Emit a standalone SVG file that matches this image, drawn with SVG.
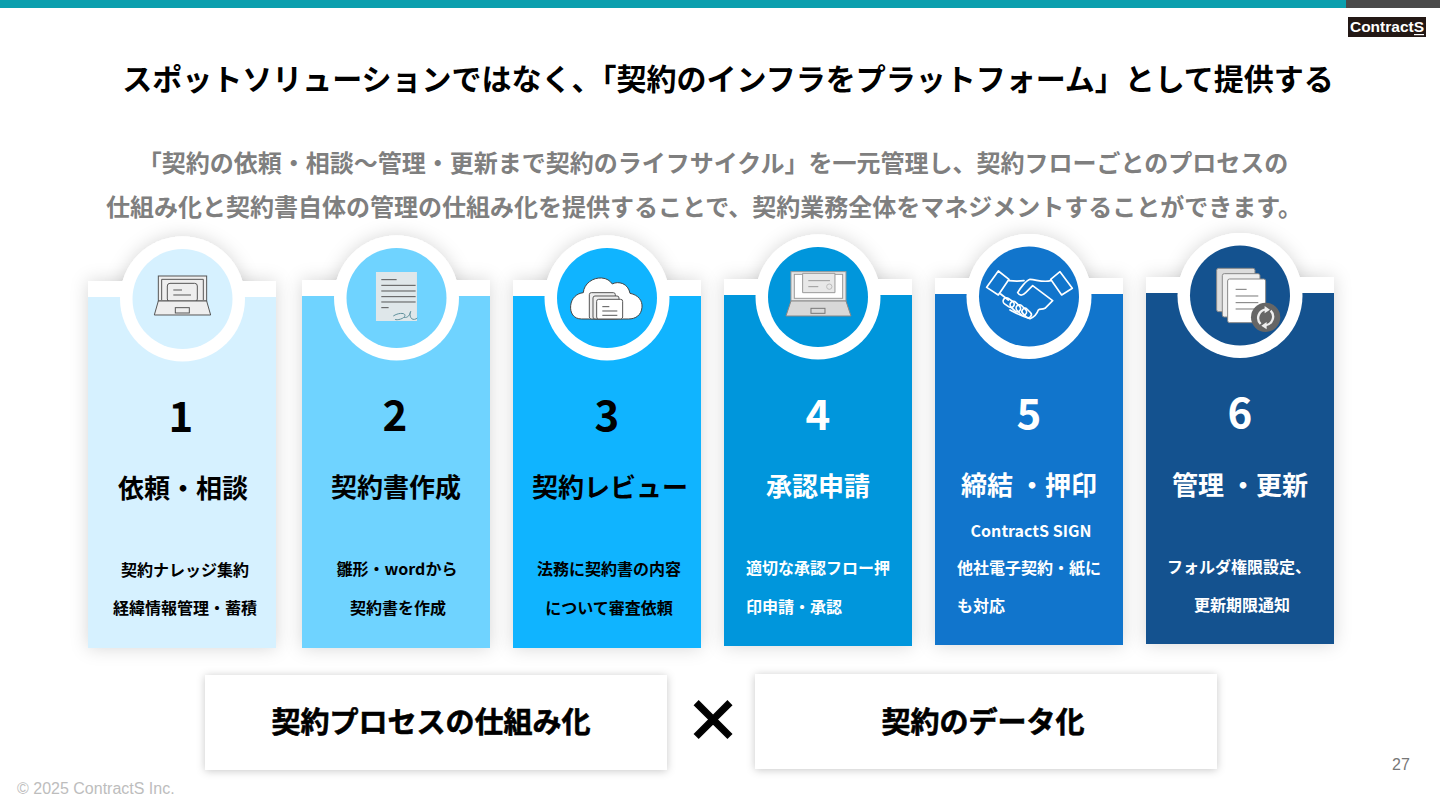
<svg xmlns="http://www.w3.org/2000/svg" width="1440" height="810" viewBox="0 0 1440 810">
<defs>
<style>
text{font-family:"Noto Sans CJK JP","Noto Sans",sans-serif;font-weight:700}
.m{text-anchor:middle}
.title{font-size:30px;fill:#000}
.sub{font-size:24px;fill:#7f7f7f}
.num{font-size:42px}
.head{font-size:26px}
.body{font-size:16px}
.k{fill:#000}
.w{fill:#fff}
.big{font-size:29px;fill:#000;stroke:#000;stroke-width:.6px}
.ic{fill:none;stroke:#555;stroke-width:3}
.gl{fill:#eee;stroke:#555;stroke-width:3}
.hs{fill:none;stroke:#fff;stroke-width:5;stroke-linejoin:round;stroke-linecap:round}
.foot{font-family:"Liberation Sans",sans-serif;font-weight:400;font-size:16px;fill:#bdbdbd}
</style>
<filter id="sh" x="-20%" y="-20%" width="140%" height="140%"><feDropShadow dx="0" dy="0" stdDeviation="9" flood-color="#000" flood-opacity=".16"/></filter>
<filter id="sb" x="-10%" y="-20%" width="120%" height="140%"><feDropShadow dx="0" dy="1" stdDeviation="4" flood-color="#000" flood-opacity=".22"/></filter>
</defs>
<rect width="1440" height="810" fill="#fff"/>
<rect id="bar-a" x="0" y="0" width="1346" height="8" fill="#0b9fae"/>
<rect id="bar-b" x="1346" y="0" width="94" height="8" fill="#4a4a4a"/>
<g id="logo"><rect x="1348" y="17" width="78" height="20" fill="#231815"/><text x="1387" y="32" class="m" style="font-family:'Liberation Sans',sans-serif;font-size:15.5px" fill="#fff">ContractS</text><rect x="1414" y="34" width="10" height="1.2" fill="#fff"/></g>
<text x="728" y="90" class="title m">スポットソリューションではなく、「契約のインフラをプラットフォーム」として提供する</text>
<text x="713" y="172" class="sub m">「契約の依頼・相談〜管理・更新まで契約のライフサイクル」を一元管理し、契約フローごとのプロセスの</text>
<text x="704" y="216" class="sub m">仕組み化と契約書自体の管理の仕組み化を提供することで、契約業務全体をマネジメントすることができます。</text>

<g id="card-1">
<rect x="88" y="281" width="188" height="367" fill="#fff" filter="url(#sh)"/><circle cx="182.5" cy="299" r="62.5" fill="#fff" filter="url(#sh)"/>
<rect x="88" y="297" width="188" height="351" fill="#d6f1ff"/><rect x="88" y="281" width="188" height="16" fill="#fff"/><circle cx="182.5" cy="299" r="62.5" fill="#fff"/><circle cx="182.5" cy="299" r="50" fill="#d6f1ff"/>
<g transform="translate(80 240) scale(.3333)"><rect class="gl" x="235" y="108" width="145" height="75"/><path class="ic" d="M245 118H370V180M245 118V180"/><rect class="ic" x="262" y="130" width="90" height="55" rx="8"/><path class="ic" d="M280 150H306M280 165H333"/><path class="gl" d="M235 183H380L392 225H223Z"/><rect class="ic" x="286" y="203" width="42" height="16"/></g>
<text x="181" y="432" class="num m k">1</text><text x="183" y="498" class="head m k">依頼・相談</text>
<text x="185" y="576" class="body m k">契約ナレッジ集約</text><text x="185" y="614" class="body m k">経緯情報管理・蓄積</text>
</g>

<g id="card-2">
<rect x="302" y="280" width="188" height="368" fill="#fff" filter="url(#sh)"/><circle cx="396.5" cy="298" r="62.5" fill="#fff" filter="url(#sh)"/>
<rect x="302" y="296" width="188" height="352" fill="#6fd3ff"/><rect x="302" y="280" width="188" height="16" fill="#fff"/><circle cx="396.5" cy="298" r="62.5" fill="#fff"/><circle cx="396.5" cy="298" r="50" fill="#6fd3ff"/>
<g transform="translate(80 240) scale(.3333)"><rect x="888" y="96" width="123" height="147" fill="#dfe7ea"/><path class="ic" d="M904 119H950M904 136H1007M904 153H1007M904 170H1007M904 186H1007M904 203H926"/><path fill="none" stroke="#5d8f9b" stroke-width="3" d="M940 228C955 218 975 218 975 226C975 236 950 242 945 238M972 232C985 235 990 222 992 215C994 210 985 225 995 236C1000 240 1008 238 1012 234"/></g>
<text x="395" y="431" class="num m k">2</text><text x="396" y="497" class="head m k">契約書作成</text>
<text x="397" y="575" class="body m k">雛形・wordから</text><text x="398" y="614" class="body m k">契約書を作成</text>
</g>

<g id="card-3">
<rect x="513" y="280" width="188" height="368" fill="#fff" filter="url(#sh)"/><circle cx="607" cy="298" r="62.5" fill="#fff" filter="url(#sh)"/>
<rect x="513" y="296" width="188" height="352" fill="#10b4ff"/><rect x="513" y="280" width="188" height="16" fill="#fff"/><circle cx="607" cy="298" r="62.5" fill="#fff"/><circle cx="607" cy="298" r="50" fill="#10b4ff"/>
<g transform="translate(510 240) scale(.3333)"><path fill="#fff" stroke="#444" stroke-width="3" d="M215 237C190 237 180 218 182 197C184 175 200 160 220 158C222 130 250 112 275 114C290 115 300 122 307 132C325 122 355 130 360 160C385 165 398 182 396 202C394 225 378 237 355 237Z"/>
<path d="M238 237V168Q238 158 248 158H305Q315 158 315 168V178H338V237Z" fill="#eee"/><rect class="gl" x="238" y="158" width="78" height="79" rx="6"/><rect class="gl" x="249" y="168" width="78" height="69" rx="6"/><rect x="260" y="178" width="78" height="59" rx="6" fill="#fff" stroke="#555" stroke-width="3"/><path class="ic" d="M277 200H298M277 213H322M277 226H322"/></g>
<text x="607" y="431" class="num m k">3</text><text x="610" y="497" class="head m k">契約レビュー</text>
<text x="609" y="575" class="body m k">法務に契約書の内容</text><text x="609" y="614" class="body m k">について審査依頼</text>
</g>

<g id="card-4">
<rect x="724" y="279" width="188" height="367" fill="#fff" filter="url(#sh)"/><circle cx="818" cy="297" r="62.5" fill="#fff" filter="url(#sh)"/>
<rect x="724" y="295" width="188" height="351" fill="#0096dc"/><rect x="724" y="279" width="188" height="16" fill="#fff"/><circle cx="818" cy="297" r="62.5" fill="#fff"/><circle cx="818" cy="297" r="50" fill="#0096dc"/>
<g transform="translate(510 240) scale(.3333)"><rect x="843" y="95" width="165" height="88" fill="#e8e8e8" stroke="#999" stroke-width="3"/><rect x="853" y="103" width="145" height="72" fill="#fff" stroke="#999" stroke-width="3"/><path fill="#e8e8e8" stroke="#999" stroke-width="3" d="M878 100H975V158H878Z"/><path fill="none" stroke="#999" stroke-width="3" d="M895 122H960M895 140H925"/><circle cx="958" cy="140" r="8" fill="none" stroke="#bbb" stroke-width="3"/><path fill="#d8d8d8" stroke="#888" stroke-width="3" d="M843 183H1008L1023 228H828Z"/><rect x="903" y="205" width="42" height="15" fill="none" stroke="#777" stroke-width="3"/></g>
<text x="818" y="430" class="num m w">4</text><text x="818" y="496" class="head m w">承認申請</text>
<text x="746" y="574" class="body w">適切な承認フロー押</text><text x="746" y="613" class="body w">印申請・承認</text>
</g>

<g id="card-5">
<rect x="935" y="278" width="188" height="367" fill="#fff" filter="url(#sh)"/><circle cx="1029" cy="296.5" r="62.5" fill="#fff" filter="url(#sh)"/>
<rect x="935" y="294" width="188" height="351" fill="#1175cc"/><rect x="935" y="278" width="188" height="16" fill="#fff"/><circle cx="1029" cy="296.5" r="62.5" fill="#fff"/><circle cx="1029" cy="296.5" r="50" fill="#1175cc"/>
<g transform="translate(930 240) scale(.3333)"><path class="hs" d="M205 93L237 118L205 165L170 142ZM390 95L427 145L395 165L362 118Z"/><path class="hs" d="M237 122C255 124 268 124 282 122M362 122C340 128 322 120 300 118C288 122 270 145 263 158C270 170 280 165 287 158L308 137L368 182M212 162L235 180M368 182L345 205C335 210 330 205 325 210C320 225 310 232 300 236C285 232 262 222 240 210"/><rect class="hs" x="218" y="178" width="36" height="20" rx="10" transform="rotate(35 236 188)"/><rect class="hs" x="238" y="190" width="36" height="20" rx="10" transform="rotate(45 256 200)"/><rect class="hs" x="256" y="200" width="36" height="20" rx="10" transform="rotate(45 274 210)"/><rect class="hs" x="274" y="210" width="32" height="18" rx="9" transform="rotate(45 290 219)"/></g>
<text x="1029" y="429" class="num m w">5</text><text x="1029" y="495" class="head m w">締結 ・押印</text>
<text x="1031" y="537" class="body m w">ContractS SIGN</text><text x="957" y="574" class="body w">他社電子契約・紙に</text><text x="957" y="612" class="body w">も対応</text>
</g>

<g id="card-6">
<rect x="1146" y="277" width="188" height="367" fill="#fff" filter="url(#sh)"/><circle cx="1240" cy="295.5" r="62.5" fill="#fff" filter="url(#sh)"/>
<rect x="1146" y="293" width="188" height="351" fill="#14528f"/><rect x="1146" y="277" width="188" height="16" fill="#fff"/><circle cx="1240" cy="295.5" r="62.5" fill="#fff"/><circle cx="1240" cy="295.5" r="50" fill="#14528f"/>
<g transform="translate(930 240) scale(.3333)"><rect x="860" y="85" width="115" height="130" rx="6" fill="#dcdcdc" stroke="#888" stroke-width="3"/><rect x="877" y="101" width="113" height="130" rx="6" fill="#eee" stroke="#888" stroke-width="3"/><rect x="893" y="117" width="114" height="131" rx="6" fill="#fff" stroke="#888" stroke-width="3"/><path fill="none" stroke="#777" stroke-width="3" d="M917 148H950M917 168H985M917 188H985M917 207H985"/><circle cx="1007" cy="232" r="44" fill="#666"/><path fill="none" stroke="#eee" stroke-width="7" d="M992 252A26 26 0 0 1 1008 208M1022 212A26 26 0 0 1 1006 256"/><path fill="#eee" d="M1004 198L1020 209L1004 220ZM1010 246L994 257L1010 268Z"/></g>
<text x="1240" y="428" class="num m w">6</text><text x="1240" y="495" class="head m w">管理 ・更新</text>
<text x="1239" y="573" class="body m w">フォルダ権限設定、</text><text x="1242" y="611" class="body m w">更新期限通知</text>
</g>

<g id="box-process"><rect x="205" y="675" width="462" height="95" fill="#fff" filter="url(#sb)"/><text x="431" y="733" class="big m">契約プロセスの仕組み化</text></g>
<text id="times" x="713" y="741" class="m" font-size="56" fill="#000" stroke="#000" stroke-width="1.5">×</text>
<g id="box-data"><rect x="755" y="674" width="462" height="95" fill="#fff" filter="url(#sb)"/><text x="983" y="733" class="big m">契約のデータ化</text></g>
<text x="1401" y="770" class="foot m" style="fill:#777">27</text>
<text x="17" y="794" class="foot">© 2025 ContractS Inc.</text>
</svg>
